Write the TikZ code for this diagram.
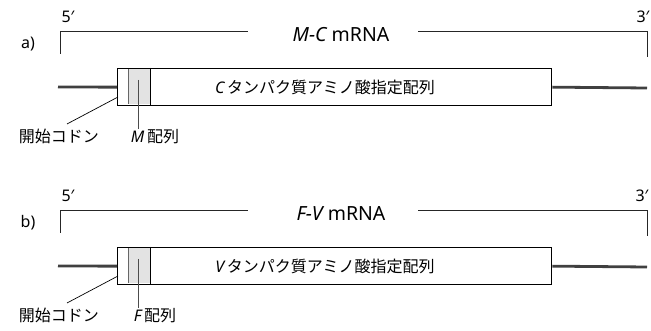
\documentclass[tikz,border=0pt]{standalone}
\usepackage{fontspec}
\setmainfont{Noto Sans}
\newfontfamily\jpfont{Noto Sans CJK JP}
\newcommand\mrnapanel[7]{%
\begin{scope}[shift={(0,#2)}]
  \node[lab] (#1five) at (68,17) {5′};
  \node[lab] (#1three) at (#7,17) {3′};
  \node[lab] (#1tag) at (28,44) {#3};
  \coordinate (#1bl) at (60,54);
  \coordinate (#1tl) at (60,32);
  \coordinate (#1le) at (248,32);
  \coordinate (#1rs) at (418,32);
  \coordinate (#1tr) at (647,32);
  \coordinate (#1br) at (647,57);
  \draw[bracket] (#1bl) -- (#1tl) -- (#1le);
  \draw[bracket] (#1rs) -- (#1tr) -- (#1br);
  \node[title] (#1title) at (341,35) {#4};
  \node[draw, boxline, minimum width=434pt, minimum height=37pt, inner sep=0pt, anchor=north west] (#1box) at (117,68) {};
  \fill[gray!22] (128,69) rectangle (150,104);
  \draw[line width=0.6pt, black!60] (128,69) -- (128,104);
  \draw[line width=1pt] (150,68) -- (150,105);
  \coordinate (#1ls) at (58,87);
  \coordinate (#1re) at (647,88);
  \draw[thickline] (#1ls) -- (#1box.west);
  \draw[thickline] (#1box.east) -- (#1re);
  \node[jplab] (#1text) at (325,87) {{\rmfamily\itshape #5\,}タンパク質アミノ酸指定配列};
  \node[jplab, anchor=north] (#1start) at (59,129) {開始コドン};
  \node[jplab, anchor=north] (#1seq) at (155,129) {{\rmfamily\itshape #6\,}配列};
  \coordinate (#1codon) at (118,97);
  \coordinate (#1tip) at (67,124);
  \draw[leader] (#1codon) -- (#1tip);
  \coordinate (#1mid) at (138,80);
  \draw[leader, black!70] (#1mid) -- (#1mid |- #1seq.north);
\end{scope}}
\begin{document}
\begin{tikzpicture}[x=1pt,y=-1pt,
  bracket/.style={line width=1pt, black!85},
  thickline/.style={line width=2.8pt, black!75},
  boxline/.style={line width=1.3pt},
  leader/.style={line width=0.7pt},
  lab/.style={inner sep=0pt, font=\fontsize{16}{16}\selectfont},
  jplab/.style={inner sep=0pt, font=\fontsize{16}{16}\selectfont\jpfont},
  title/.style={inner sep=0pt, font=\fontsize{19.5}{19.5}\selectfont}]
\useasboundingbox (0,0) rectangle (651,331);
\mrnapanel{a}{0}{a)}{{\itshape M-C} mRNA}{C}{M}{643}
\mrnapanel{b}{179}{b)}{{\itshape F-V} mRNA}{V}{F}{642}
\end{tikzpicture}
\end{document}
